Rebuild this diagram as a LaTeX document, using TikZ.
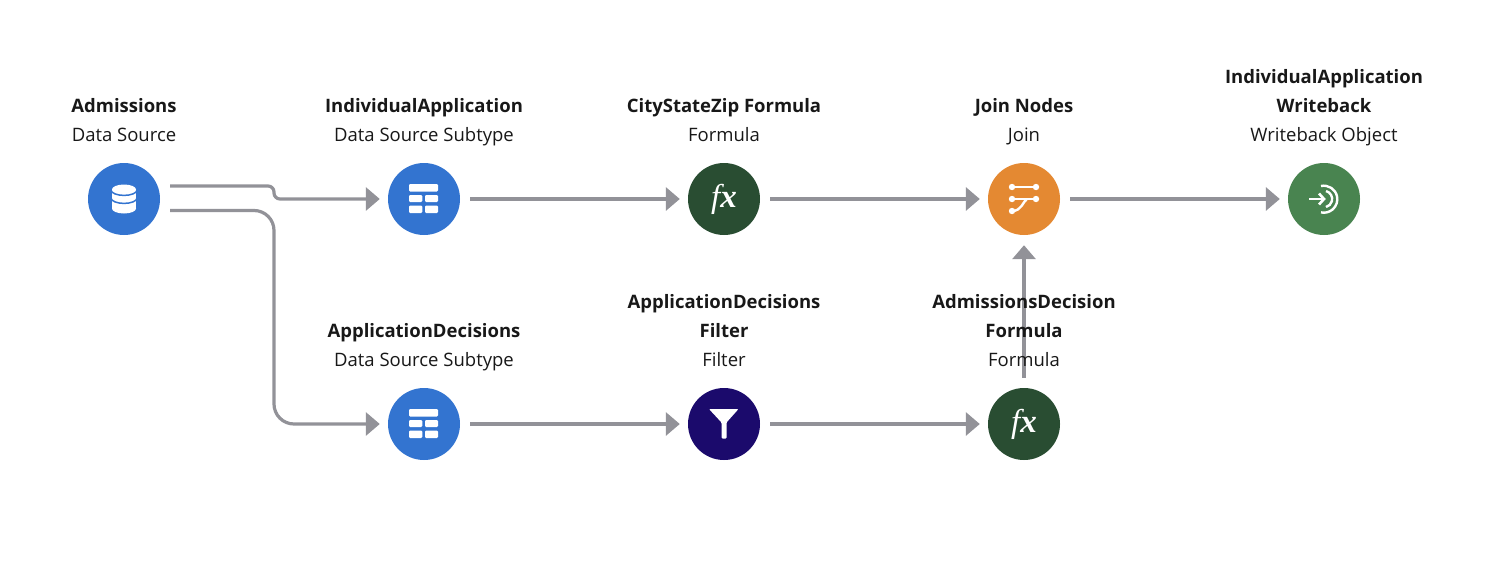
\documentclass[tikz,border=0pt]{standalone}
\usepackage{fontspec}
\setmainfont{Open Sans}
\newfontfamily\fxfont{Liberation Serif}
\usetikzlibrary{arrows.meta, positioning}
\definecolor{sourceblue}{RGB}{51, 116, 208}
\definecolor{formulagreen}{RGB}{41, 77, 50}
\definecolor{joinorange}{RGB}{228, 137, 50}
\definecolor{writegreen}{RGB}{73, 132, 80}
\definecolor{filternavy}{RGB}{27, 10, 108}
\definecolor{flowgray}{RGB}{146, 146, 152}
\definecolor{labelink}{RGB}{24, 24, 24}
\tikzset{
  stage/.style={circle, minimum size=72pt, inner sep=0pt, text=white},
  flow/.style={draw=flowgray, line width=3.2pt, -{Triangle[length=14pt,width=23pt]}, shorten >=8pt},
  caption/.style={align=center, inner sep=0pt, text=labelink, font=\fontsize{18.5}{29}\selectfont, execute at end node=\strut},
  fxmark/.style={font=\fxfont\fontsize{33}{33}\selectfont\itshape}
}
\newcommand{\tableicon}[1]{
  \begin{scope}[shift={(#1)}]
    \fill[white, rounded corners=1.2pt] (-15,-15) rectangle (14,-7.5);
    \fill[white, rounded corners=1.2pt] (-15,-4) rectangle (-1.7,3);
    \fill[white, rounded corners=1.2pt] (1,-4) rectangle (14,3);
    \fill[white, rounded corners=1.2pt] (-15,6.5) rectangle (-1.7,14);
    \fill[white, rounded corners=1.2pt] (1,6.5) rectangle (14,14);
  \end{scope}
}

\begin{document}
\begin{tikzpicture}[x=1pt, y=-1pt]
    \useasboundingbox (0,0) rectangle (1498,575);

    % stages, top row
    \node[stage, fill=sourceblue] (admissions) at (124,199) {};
    \node[stage, fill=sourceblue] (individual) at (424,199) {};
    \node[stage, fill=formulagreen, fxmark] (cityzip) at (724,199) {f\textbf{x}};
    \node[stage, fill=joinorange] (joinnodes) at (1024,199) {};
    \node[stage, fill=writegreen] (writeback) at (1324,199) {};

    % stages, bottom row
    \node[stage, fill=sourceblue] (decisions) at (424,424) {};
    \node[stage, fill=filternavy] (decfilter) at (724,424) {};
    \node[stage, fill=formulagreen, fxmark] (decformula) at (1024,424) {f\textbf{x}};

    % icons
    \begin{scope}[shift={(admissions.center)}]
        \fill[white] (-12,-9.5) rectangle (12,9.5);
        \fill[white] (0,-9.5) ellipse (12 and 5);
        \fill[white] (0,9.5) ellipse (12 and 5);
        \draw[sourceblue, line width=1.5pt] (-13,-9) arc (180:0:13 and 5.4);
        \draw[sourceblue, line width=1.5pt] (-13,-1) arc (180:0:13 and 5.4);
    \end{scope}
    \tableicon{individual.center}
    \tableicon{decisions.center}
    \begin{scope}[shift={(joinnodes.center)}]
        \draw[white, line width=2.4pt] (-12,-12) -- (12,-12);
        \draw[white, line width=2.4pt] (-12,0) -- (12,0);
        \draw[white, line width=2.4pt] (-12,12) .. controls (-2,12) and (-1,2) .. (3,0);
        \foreach \px/\py in {-12/-12, 12/-12, -12/0, 12/0, -12/12}
            \fill[white] (\px,\py) circle (3.2);
    \end{scope}
    \begin{scope}[shift={(writeback.center)}]
        \draw[white, line width=2.6pt] (-15,0) -- (-1,0);
        \draw[white, line width=2.6pt] (-5,-5.5) -- (0,0) -- (-5,5.5);
        \draw[white, line width=2.4pt] (2,-8) arc (-75:75:8.3);
        \draw[white, line width=2.4pt] (-3,-13) arc (-102:102:13.5);
    \end{scope}
    \begin{scope}[shift={(decfilter.center)}]
        \fill[white, rounded corners=1pt] (-15,-15) -- (14.5,-15) -- (2.5,-1.5) -- (2.5,14.5) -- (-2.5,14.5) -- (-2.5,-1.5) -- cycle;
    \end{scope}

    % connectors
    \coordinate (admOutA) at (170,186);
    \coordinate (admOutB) at (170,210.5);
    \coordinate (busTop) at (274,199);
    \coordinate (busLow) at (274,424);
    \draw[flow, rounded corners=6pt] (admOutA) -| (busTop) -- (individual);
    \draw[flow, rounded corners=20pt] (admOutB) -| (busLow) -- (decisions);
    \draw[flow, shorten <=10pt] (individual) -- (cityzip);
    \draw[flow, shorten <=10pt] (cityzip) -- (joinnodes);
    \draw[flow, shorten <=10pt] (joinnodes) -- (writeback);
    \draw[flow, shorten <=10pt] (decisions) -- (decfilter);
    \draw[flow, shorten <=10pt] (decfilter) -- (decformula);
    \draw[flow, shorten <=10pt, shorten >=10pt] (decformula) -- (joinnodes);

    % captions
    \node[caption, above=12pt of admissions] (capadmissions) {\textbf{Admissions}\\Data Source};
    \node[caption, above=12pt of individual] (capindividual) {\textbf{IndividualApplication}\\Data Source Subtype};
    \node[caption, above=12pt of cityzip] (capcityzip) {\textbf{CityStateZip Formula}\\Formula};
    \node[caption, above=12pt of joinnodes] (capjoin) {\textbf{Join Nodes}\\Join};
    \node[caption, above=12pt of writeback] (capwriteback) {\textbf{IndividualApplication}\\\textbf{Writeback}\\Writeback Object};
    \node[caption, above=12pt of decisions] (capdecisions) {\textbf{ApplicationDecisions}\\Data Source Subtype};
    \node[caption, above=12pt of decfilter] (capfilter) {\textbf{ApplicationDecisions}\\\textbf{Filter}\\Filter};
    \node[caption, above=12pt of decformula] (capformula) {\textbf{AdmissionsDecision}\\\textbf{Formula}\\Formula};
\end{tikzpicture}
\end{document}
